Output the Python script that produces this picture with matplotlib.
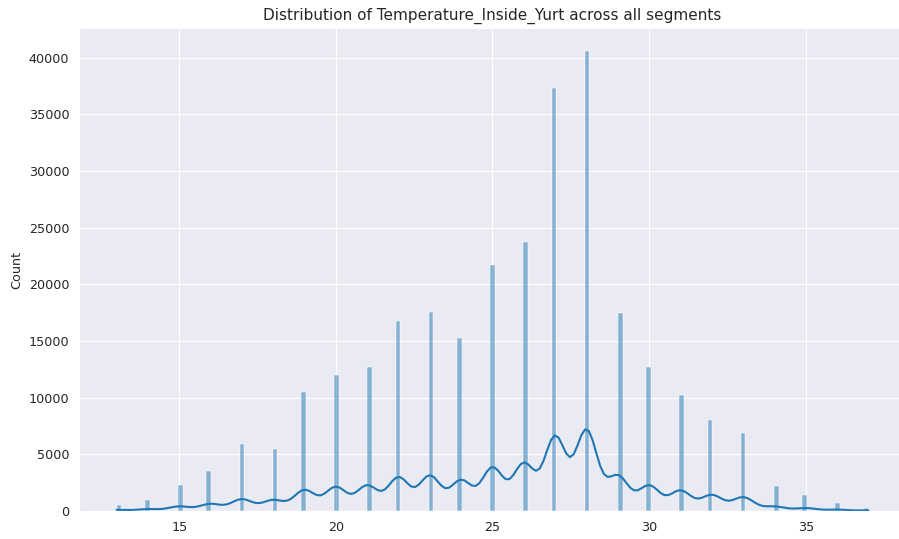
import numpy as np
import pandas as pd
import matplotlib
matplotlib.use("Agg")
import matplotlib.pyplot as plt
import seaborn as sns

temperatures = [13, 14, 15, 16, 17, 18, 19, 20, 21, 22, 23, 24, 25,
                26, 27, 28, 29, 30, 31, 32, 33, 34, 35, 36, 37]
counts = [550, 950, 2300, 3550, 5900, 5450, 10500, 12000, 12700, 16800,
          17600, 15300, 21700, 23700, 37300, 40600, 17500, 12700, 10200,
          8000, 6900, 2250, 1450, 700, 300]

values = np.repeat(np.array(temperatures, dtype=float), counts)
df = pd.DataFrame({"Temperature_Inside_Yurt": values})

sns.set_style("darkgrid")
fig = plt.figure(figsize=(8.99, 5.39), dpi=100)
ax = fig.add_axes([79 / 899, 1 - 511 / 539, 827 / 899, 483 / 539])
sns.histplot(data=df, x="Temperature_Inside_Yurt", kde=True, ax=ax)
ax.set_title("Distribution of Temperature_Inside_Yurt across all segments", fontsize=11)
ax.set_xlabel("")
ax.set_ylabel("Count", fontsize=9.2)
ax.tick_params(labelsize=9.2)
fig.savefig("out.png", dpi=100)
